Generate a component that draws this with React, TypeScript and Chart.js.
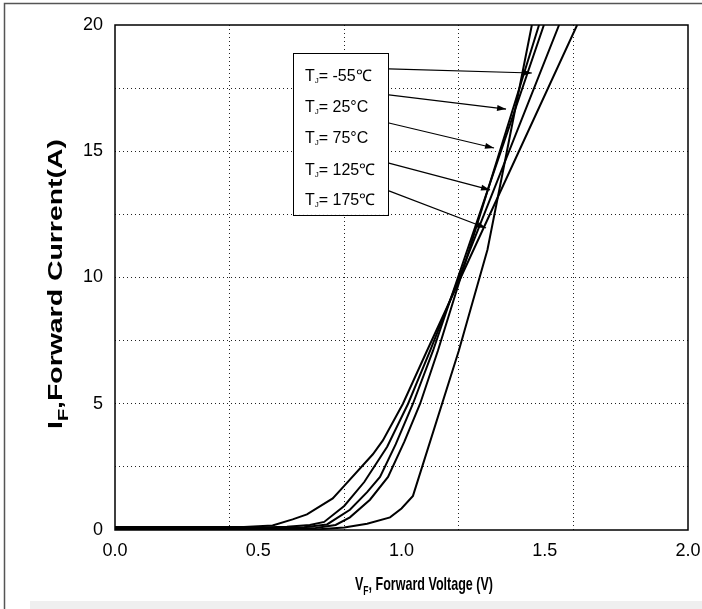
import React, { useEffect, useRef } from 'react';
import { Chart, registerables } from 'chart.js';

Chart.register(...registerables);

// Forward characteristics (VF in V, IF in A), one pair of arrays per junction temperature
const vfM55 = [0, 0.7, 0.8, 0.88, 0.96, 1.0, 1.04, 1.2, 1.3, 1.455];
const ifM55 = [0.02, 0.02, 0.1, 0.25, 0.5, 0.85, 1.35, 7.1, 11.1, 20];

const vf25 = [0, 0.6, 0.7, 0.77, 0.82, 0.89, 0.953, 1.01, 1.065, 1.127, 1.48];
const if25 = [0.05, 0.05, 0.08, 0.2, 0.5, 1.2, 2.1, 3.5, 5.0, 7.1, 20];

const vf75 = [0, 0.55, 0.66, 0.74, 0.82, 0.88, 0.925, 0.98, 1.04, 1.11, 1.497];
const if75 = [0.08, 0.08, 0.11, 0.22, 0.8, 1.5, 2.1, 3.4, 5.0, 7.1, 20];

const vf125 = [0, 0.5, 0.6, 0.68, 0.73, 0.8, 0.87, 0.95, 1.023, 1.1, 1.55];
const if125 = [0.1, 0.1, 0.13, 0.2, 0.32, 0.95, 1.9, 3.3, 5.0, 7.1, 20];

const vf175 = [0, 0.45, 0.55, 0.62, 0.67, 0.76, 0.8, 0.9, 0.935, 1.005, 1.089, 1.613];
const if175 = [0.12, 0.12, 0.18, 0.42, 0.62, 1.25, 1.75, 3.0, 3.55, 5.0, 7.1, 20];

const seriesNames = ['TJ=-55℃', 'TJ=25°C', 'TJ=75°C', 'TJ=125℃', 'TJ=175℃'];
const seriesV = [vfM55, vf25, vf75, vf125, vf175];
const seriesI = [ifM55, if25, if75, if125, if175];

// Axis ticks
const xTickValues = [0, 0.4, 0.5, 0.8, 1.0, 1.2, 1.5, 1.6, 2.0];
const xLabelStep = 0.5;
const xGridStep = 0.4;
const yLabelStep = 5;
const yGridStep = 2.5;

// Annotation (callouts) in data units
const noteTexts = ['= -55℃', '= 25°C', '= 75°C', '= 125℃', '= 175℃'];
const noteTextV = 0.663;
const noteBaseI = [17.78, 16.55, 15.33, 14.06, 12.87];
const noteBoxV = [0.621, 0.953];
const noteBoxI = [18.9, 12.48];
const arrowStartV = 0.956;
const arrowStartI = [18.26, 17.23, 16.12, 14.53, 13.43];
const arrowTipV = [1.455, 1.365, 1.323, 1.309, 1.295];
const arrowTipI = [18.1, 16.67, 15.13, 13.47, 11.96];

const FONT = "'Liberation Sans', Arial, sans-serif";

const isMult = (v: number, s: number) => Math.abs(v / s - Math.round(v / s)) < 1e-6;

const decor = {
  id: 'decor',
  beforeDraw(chart: any) {
    const ctx = chart.ctx;
    ctx.save();
    ctx.fillStyle = '#ffffff';
    ctx.fillRect(0, 0, chart.width, chart.height);
    ctx.fillStyle = '#efefef';
    ctx.fillRect(30, 601, chart.width - 30, chart.height - 601);
    ctx.strokeStyle = '#555';
    ctx.lineWidth = 1.5;
    ctx.beginPath();
    ctx.moveTo(4.5, chart.height);
    ctx.lineTo(4.5, 3.5);
    ctx.lineTo(chart.width, 3.5);
    ctx.stroke();
    ctx.restore();
  },
  afterDatasetsDraw(chart: any) {
    const ctx = chart.ctx;
    const a = chart.chartArea;
    const x = chart.scales.x;
    const y = chart.scales.y;
    ctx.save();

    // callout box
    const bx0 = x.getPixelForValue(noteBoxV[0]);
    const bx1 = x.getPixelForValue(noteBoxV[1]);
    const by0 = y.getPixelForValue(noteBoxI[0]);
    const by1 = y.getPixelForValue(noteBoxI[1]);
    ctx.fillStyle = '#fff';
    ctx.fillRect(bx0, by0, bx1 - bx0, by1 - by0);
    ctx.strokeStyle = '#000';
    ctx.lineWidth = 1;
    ctx.strokeRect(Math.round(bx0) + 0.5, Math.round(by0) + 0.5, Math.round(bx1 - bx0), Math.round(by1 - by0));

    // texts
    ctx.fillStyle = '#000';
    ctx.textBaseline = 'alphabetic';
    ctx.textAlign = 'left';
    noteTexts.forEach((t, i) => {
      const tx = x.getPixelForValue(noteTextV);
      const ty = y.getPixelForValue(noteBaseI[i]);
      ctx.font = `16px ${FONT}`;
      ctx.fillText('T', tx, ty);
      const wT = ctx.measureText('T').width;
      ctx.font = `8px ${FONT}`;
      ctx.fillText('J', tx + wT, ty + 2);
      const wJ = ctx.measureText('J').width;
      ctx.font = `16px ${FONT}`;
      ctx.fillText(t, tx + wT + wJ, ty);
    });

    // arrows
    arrowStartI.forEach((si, i) => {
      const x0 = x.getPixelForValue(arrowStartV);
      const y0 = y.getPixelForValue(si);
      const x1 = x.getPixelForValue(arrowTipV[i]);
      const y1 = y.getPixelForValue(arrowTipI[i]);
      ctx.strokeStyle = '#000';
      ctx.lineWidth = 1.2;
      ctx.beginPath();
      ctx.moveTo(x0, y0);
      ctx.lineTo(x1, y1);
      ctx.stroke();
      const ang = Math.atan2(y1 - y0, x1 - x0);
      const L = 9, W = 3;
      ctx.beginPath();
      ctx.moveTo(x1, y1);
      ctx.lineTo(x1 - L * Math.cos(ang) + W * Math.sin(ang), y1 - L * Math.sin(ang) - W * Math.cos(ang));
      ctx.lineTo(x1 - L * Math.cos(ang) - W * Math.sin(ang), y1 - L * Math.sin(ang) + W * Math.cos(ang));
      ctx.closePath();
      ctx.fillStyle = '#000';
      ctx.fill();
    });

    // plot frame
    ctx.strokeStyle = '#000';
    ctx.lineWidth = 1.5;
    ctx.strokeRect(a.left, a.top, a.right - a.left, a.bottom - a.top);

    // x title  V_F, Forward Voltage (V)
    {
      const cx = 424, cy = 590;
      const targetW = 138;
      ctx.font = `bold 19px ${FONT}`;
      const w1 = ctx.measureText('V').width;
      const rest = ', Forward Voltage (V)';
      const w3 = ctx.measureText(rest).width;
      ctx.font = `bold 13px ${FONT}`;
      const w2 = ctx.measureText('F').width;
      const total = w1 + w2 + w3;
      const sx = targetW / total;
      ctx.save();
      ctx.translate(cx - targetW / 2, cy);
      ctx.scale(sx, 1);
      ctx.fillStyle = '#000';
      ctx.font = `bold 19px ${FONT}`;
      ctx.fillText('V', 0, 0);
      ctx.font = `bold 13px ${FONT}`;
      ctx.fillText('F', w1, 5);
      ctx.font = `bold 19px ${FONT}`;
      ctx.fillText(rest, w1 + w2, 0);
      ctx.restore();
    }

    // y title  I_F,Forward Current(A)
    {
      const cx = 62, cy = 284;
      const targetL = 290;
      ctx.font = `bold 20px ${FONT}`;
      const w1 = ctx.measureText('I').width;
      const rest = ',Forward Current(A)';
      const w3 = ctx.measureText(rest).width;
      ctx.font = `bold 14px ${FONT}`;
      const w2 = ctx.measureText('F').width;
      const total = w1 + w2 + w3;
      ctx.save();
      ctx.translate(cx, cy);
      ctx.rotate(-Math.PI / 2);
      ctx.translate(-targetL / 2, 0);
      ctx.scale(targetL / total, 1);
      ctx.fillStyle = '#000';
      ctx.font = `bold 20px ${FONT}`;
      ctx.fillText('I', 0, 0);
      ctx.font = `bold 14px ${FONT}`;
      ctx.fillText('F', w1, 6);
      ctx.font = `bold 20px ${FONT}`;
      ctx.fillText(rest, w1 + w2, 0);
      ctx.restore();
    }

    ctx.restore();
  },
};

export default function App() {
  const ref = useRef<HTMLCanvasElement | null>(null);

  useEffect(() => {
    if (!ref.current) return;
    const datasets = seriesNames.map((name, k) => ({
      label: name,
      data: seriesV[k].map((v, j) => ({ x: v, y: seriesI[k][j] })),
      borderColor: '#000',
      borderWidth: 2,
      pointRadius: 0,
      tension: 0,
      fill: false,
    }));
    const chart = new Chart(ref.current, {
      type: 'line',
      data: { datasets },
      options: {
        animation: false,
        responsive: false,
        devicePixelRatio: 1,
        layout: { padding: { top: 25, right: 14, left: 0, bottom: 0 } },
        plugins: { legend: { display: false }, tooltip: { enabled: false }, title: { display: false } },
        scales: {
          x: {
            type: 'linear',
            min: 0,
            max: 2,
            afterBuildTicks: (s: any) => {
              s.ticks = xTickValues.map((v) => ({ value: v }));
            },
            afterFit: (s: any) => {
              s.height = 79;
              s.paddingLeft = 0;
              s.paddingRight = 0;
            },
            ticks: {
              autoSkip: false,
              maxRotation: 0,
              padding: 10,
              color: '#000',
              font: { family: FONT, size: 18 },
              callback: (v: any) => (isMult(Number(v), xLabelStep) ? Number(v).toFixed(1) : ''),
            },
            grid: {
              drawTicks: false,
              lineWidth: 1,
              color: (c: any) => {
                const v = c.tick ? c.tick.value : 0;
                if (v <= 0 || v >= 2) return 'rgba(0,0,0,0)';
                return isMult(v, xGridStep) ? '#222' : 'rgba(0,0,0,0)';
              },
            },
            border: { display: false, dash: [1, 3] },
          },
          y: {
            type: 'linear',
            min: 0,
            max: 20,
            afterFit: (s: any) => {
              s.width = 115;
              s.paddingTop = 0;
              s.paddingBottom = 0;
            },
            ticks: {
              stepSize: yGridStep,
              autoSkip: false,
              padding: 12,
              color: '#000',
              font: { family: FONT, size: 18 },
              callback: (v: any) => (isMult(Number(v), yLabelStep) ? String(Number(v)) : ''),
            },
            grid: {
              drawTicks: false,
              lineWidth: 1,
              color: (c: any) => {
                const v = c.tick ? c.tick.value : 0;
                if (v <= 0 || v >= 20) return 'rgba(0,0,0,0)';
                return '#222';
              },
            },
            border: { display: false, dash: [1, 3] },
          },
        },
      },
      plugins: [decor],
    });
    return () => chart.destroy();
  }, []);

  return (
    <div style={{ position: 'absolute', left: 0, top: 0, width: 702, height: 609, background: '#fff' }}>
      <canvas ref={ref} width={702} height={609} style={{ width: 702, height: 609, display: 'block' }} />
    </div>
  );
}
